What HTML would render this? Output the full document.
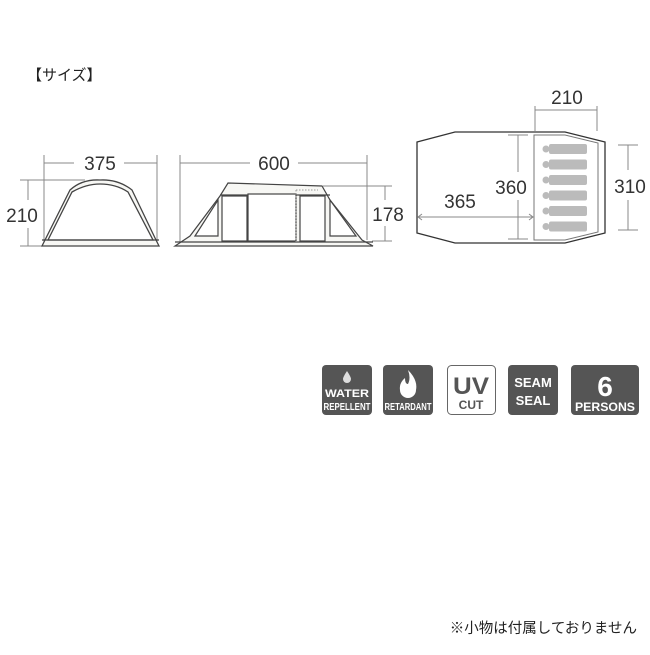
<!DOCTYPE html>
<html><head><meta charset="utf-8"><style>
body{margin:0;background:#fff;width:650px;height:650px;overflow:hidden;font-family:"Liberation Sans","Noto Sans CJK JP",sans-serif}
</style></head><body>
<svg width="650" height="650" viewBox="0 0 650 650" xmlns="http://www.w3.org/2000/svg" font-family="Liberation Sans, Noto Sans CJK JP, sans-serif">
<text x="27" y="80" font-size="15" fill="#222">【サイズ】</text>
<!-- plan -->
<path d="M417 142 L455 132 L565 132 L605 142 L605 233 L565 243 L455 243 L417 233 Z" fill="#fff" stroke="#333" stroke-width="1.3"/>
<path d="M534 135 L565 135 L598 143 L598 232 L565 240 L534 240 Z" fill="#fff" stroke="#777" stroke-width="1"/>
<g fill="#bbb">
<g id="b"><circle cx="546" cy="149" r="3.5"/><rect x="549" y="144" width="38" height="10" rx="2"/></g>
<use href="#b" y="15.5"/><use href="#b" y="31"/><use href="#b" y="46.5"/><use href="#b" y="62"/><use href="#b" y="77.5"/>
</g>
<g stroke="#888" stroke-width="1" fill="none">
<line x1="44" y1="155" x2="44" y2="246"/><line x1="157" y1="155" x2="157" y2="246"/>
<line x1="44" y1="163" x2="74" y2="163"/><line x1="124" y1="163" x2="157" y2="163"/>
<line x1="20" y1="180" x2="85" y2="180"/><line x1="20" y1="246" x2="44" y2="246"/>
<line x1="28" y1="180" x2="28" y2="200"/><line x1="28" y1="228" x2="28" y2="246"/>
<line x1="180" y1="155" x2="180" y2="246"/><line x1="367" y1="155" x2="367" y2="240"/>
<line x1="180" y1="163" x2="250" y2="163"/><line x1="298" y1="163" x2="367" y2="163"/>
<line x1="323" y1="186" x2="392" y2="186"/><line x1="372" y1="241" x2="392" y2="241"/>
<line x1="385" y1="186" x2="385" y2="200"/><line x1="385" y1="226" x2="385" y2="241"/>
<line x1="535" y1="106" x2="535" y2="131"/><line x1="597" y1="106" x2="597" y2="131"/>
<line x1="535" y1="110" x2="597" y2="110"/>
<line x1="618" y1="145" x2="638" y2="145"/><line x1="618" y1="230" x2="638" y2="230"/>
<line x1="628" y1="145" x2="628" y2="170"/><line x1="628" y1="200" x2="628" y2="230"/>
<line x1="508" y1="135" x2="528" y2="135"/><line x1="508" y1="239" x2="528" y2="239"/>
<line x1="518" y1="135" x2="518" y2="172"/><line x1="518" y1="200" x2="518" y2="239"/>
<line x1="418" y1="217" x2="533" y2="217"/>
<path d="M422 214 L418 217 L422 220 M529 214 L533 217 L529 220"/>
</g>
<g fill="#333" font-size="19">
<text x="100" y="170" text-anchor="middle">375</text>
<text x="22" y="222" text-anchor="middle">210</text>
<text x="274" y="170" text-anchor="middle">600</text>
<text x="388" y="221" text-anchor="middle">178</text>
<text x="567" y="104" text-anchor="middle">210</text>
<text x="511" y="194" text-anchor="middle">360</text>
<text x="460" y="208" text-anchor="middle">365</text>
<text x="630" y="193" text-anchor="middle">310</text>
</g>
<!-- left tent -->
<g stroke="#444" stroke-width="1.3" fill="#f7f7f4">
<path d="M42 246 L159 246 L156 240 L132 190 Q118 179 100 180 Q82 179 70 190 L45 240 Z"/>
<path d="M48 240 L72 192 Q86 184 100 184 Q116 184 128 192 L153 240 Z" fill="#fff"/>
<line x1="42" y1="240" x2="159" y2="240"/>
</g>
<!-- middle tent -->
<g stroke="#444" stroke-width="1.2" fill="#f7f7f4">
<path d="M175 246 L373 246 L362 240 L330 200 L322 186 L228 183 L220 196 L190 236 Z"/>
<line x1="220" y1="195" x2="330" y2="195"/>
<rect x="222" y="196" width="25" height="45" fill="#fff"/>
<rect x="248" y="194" width="48" height="47" fill="#fff"/>
<rect x="300" y="196" width="25" height="45" fill="#fff"/>
<path d="M195 236 L218 200 L218 236 Z" fill="#fff"/>
<path d="M330 200 L356 236 L330 236 Z" fill="#fff"/>
<line x1="175" y1="242" x2="373" y2="242"/>
</g>
<line x1="296" y1="190" x2="296" y2="242" stroke="#999" stroke-dasharray="1.5 1.5"/>
<line x1="296" y1="190" x2="318" y2="190" stroke="#999" stroke-dasharray="1.5 1.5"/>
<!-- icons -->
<g font-weight="bold" text-anchor="middle">
<rect x="322" y="365" width="50" height="50" rx="4" fill="#555"/>
<path d="M347 371 Q343 377 343 379 A4 4 0 0 0 351 379 Q351 377 347 371Z" fill="#ddd"/>
<text x="347" y="397" font-size="11" fill="#fff" textLength="44" lengthAdjust="spacingAndGlyphs">WATER</text>
<text x="347" y="410" font-size="10" fill="#fff" textLength="47" lengthAdjust="spacingAndGlyphs">REPELLENT</text>
<rect x="383" y="365" width="50" height="50" rx="4" fill="#555"/>
<path d="M408 370 Q418 380 416 390 A8 8 0 0 1 400 390 Q399 383 405 378 Q405 384 408 384 Q411 378 408 370Z" fill="#fff"/>
<text x="408" y="410" font-size="10" fill="#fff" textLength="47" lengthAdjust="spacingAndGlyphs">RETARDANT</text>
<rect x="447.5" y="365.5" width="48" height="49" rx="4" fill="#fff" stroke="#666"/>
<text x="471" y="394" font-size="24" fill="#555" textLength="36" lengthAdjust="spacingAndGlyphs">UV</text>
<text x="471" y="409" font-size="12" fill="#555">CUT</text>
<rect x="508" y="365" width="50" height="50" rx="4" fill="#555"/>
<text x="533" y="387" font-size="13" fill="#fff">SEAM</text>
<text x="533" y="405" font-size="13" fill="#fff">SEAL</text>
<rect x="571" y="365" width="68" height="50" rx="4" fill="#555"/>
<text x="605" y="396" font-size="28" fill="#fff">6</text>
<text x="605" y="411" font-size="12" fill="#fff" textLength="60" lengthAdjust="spacingAndGlyphs">PERSONS</text>
</g>
<text x="637" y="633" font-size="14.5" fill="#222" text-anchor="end">※小物は付属しておりません</text>
</svg>
</body></html>
